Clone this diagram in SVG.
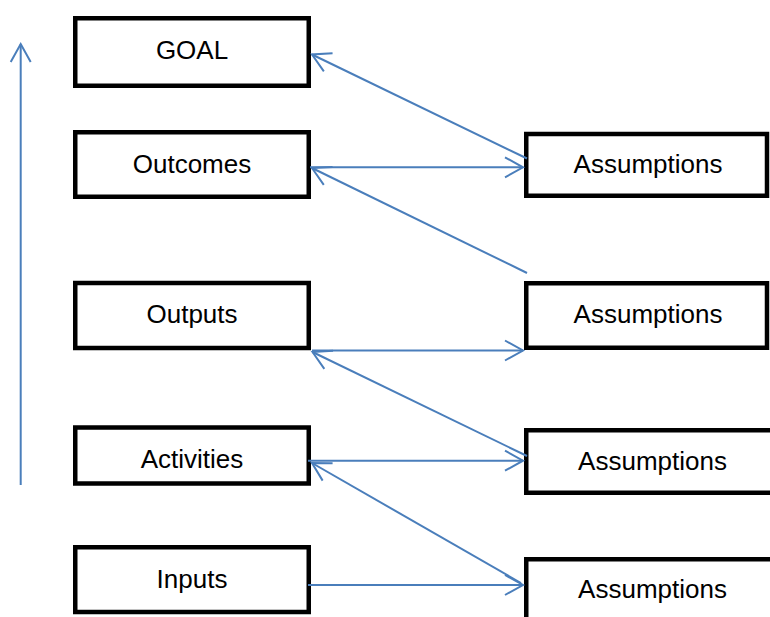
<svg xmlns="http://www.w3.org/2000/svg" width="770" height="617" viewBox="0 0 770 617">
<defs>
<style>
.box rect{fill:#fff;stroke:#000;stroke-width:4.5}
.box text{font-family:"Liberation Sans",Arial,sans-serif;font-size:26px;fill:#000;text-anchor:middle}
.conn line{stroke:#4a7ebb;stroke-width:2;fill:none}
</style>
<marker id="arr" markerUnits="userSpaceOnUse" viewBox="-20 -12 22 24" refX="0" refY="0" markerWidth="22" markerHeight="24" orient="auto" overflow="visible">
<path d="M-18,-10 L0,0 L-18,10" fill="none" stroke="#4a7ebb" stroke-width="2"/>
</marker>
</defs>
<rect width="770" height="617" fill="#fff"/>
<g id="goal" class="box"><rect x="75.25" y="18.25" width="233.5" height="67.5"/><text x="192" y="59">GOAL</text></g>
<g id="outcomes" class="box"><rect x="75.25" y="132.25" width="233.5" height="64.5"/><text x="192" y="172.5">Outcomes</text></g>
<g id="outputs" class="box"><rect x="75.25" y="283" width="233.5" height="65"/><text x="192" y="323">Outputs</text></g>
<g id="activities" class="box"><rect x="75.25" y="427.5" width="233.5" height="56"/><text x="192" y="468">Activities</text></g>
<g id="inputs" class="box"><rect x="75.25" y="547.25" width="233.5" height="64.75"/><text x="192" y="587.5">Inputs</text></g>
<g id="assumptions1" class="box"><rect x="526.25" y="134" width="240.75" height="61.75"/><text x="648" y="173">Assumptions</text></g>
<g id="assumptions2" class="box"><rect x="526.25" y="283.25" width="240.75" height="64.5"/><text x="648" y="322.5">Assumptions</text></g>
<g id="assumptions3" class="box"><rect x="526.25" y="430.25" width="260" height="62.5"/><text x="652.5" y="470">Assumptions</text></g>
<g id="assumptions4" class="box"><rect x="526.25" y="559.25" width="260" height="70"/><text x="652.5" y="598">Assumptions</text></g>
<g id="connectors" class="conn">
<line x1="20.7" y1="485" x2="20.7" y2="44" marker-end="url(#arr)"/>
<line x1="527" y1="158.5" x2="312" y2="54.5" marker-end="url(#arr)"/>
<line x1="310" y1="167.3" x2="523" y2="167.3" marker-end="url(#arr)"/>
<line x1="527" y1="273" x2="312" y2="168" marker-end="url(#arr)"/>
<line x1="312" y1="350.5" x2="523" y2="350.5" marker-end="url(#arr)"/>
<line x1="527" y1="456" x2="312.5" y2="352" marker-end="url(#arr)"/>
<line x1="308" y1="460.7" x2="523" y2="460.7" marker-end="url(#arr)"/>
<line x1="521" y1="583" x2="312" y2="463" marker-end="url(#arr)"/>
<line x1="308" y1="585" x2="523" y2="585" marker-end="url(#arr)"/>
</g>
</svg>
